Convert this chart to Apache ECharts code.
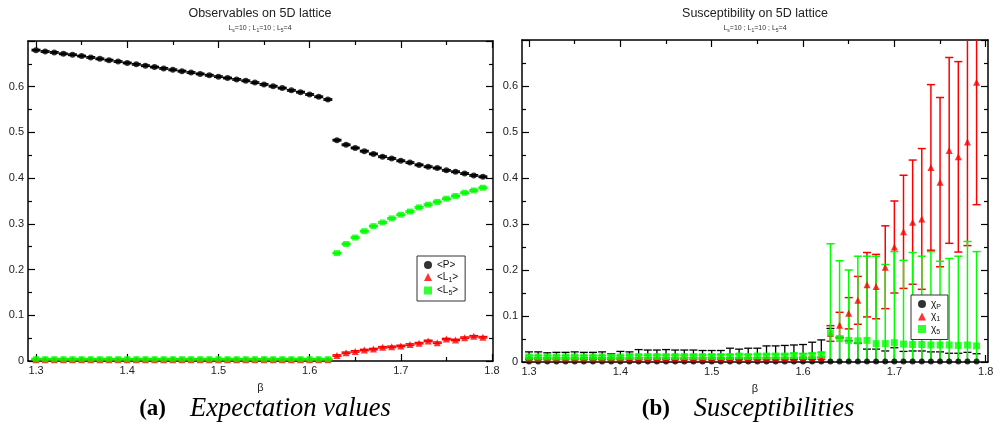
<!DOCTYPE html>
<html>
<head>
<meta charset="utf-8">
<script src="https://cdn.jsdelivr.net/npm/echarts@6/dist/echarts.min.js"></script>
<style>
html,body{margin:0;padding:0;background:#fff;}
#chart{width:1000px;height:432px;}
</style>
</head>
<body>
<div id="chart"></div>
<script>
// ---------------- data ----------------
const beta = [1.30,1.31,1.32,1.33,1.34,1.35,1.36,1.37,1.38,1.39,
              1.40,1.41,1.42,1.43,1.44,1.45,1.46,1.47,1.48,1.49,
              1.50,1.51,1.52,1.53,1.54,1.55,1.56,1.57,1.58,1.59,
              1.60,1.61,1.62,1.63,1.64,1.65,1.66,1.67,1.68,1.69,
              1.70,1.71,1.72,1.73,1.74,1.75,1.76,1.77,1.78,1.79];
const xTickLabels = [1.3,1.4,1.5,1.6,1.7,1.8];
const xMinorTicks = [1.35,1.45,1.55,1.65,1.75];

// (a) expectation values
const obsP = [0.680,0.677,0.675,0.672,0.670,0.667,0.664,0.661,0.658,0.655,
              0.652,0.649,0.646,0.643,0.640,0.637,0.634,0.631,0.628,0.625,
              0.622,0.619,0.616,0.613,0.609,0.605,0.601,0.597,0.592,0.588,
              0.583,0.578,0.572,0.483,0.473,0.466,0.459,0.453,0.447,0.443,
              0.438,0.434,0.429,0.425,0.422,0.417,0.414,0.410,0.406,0.403];
const obsL1 = [0.003,0.003,0.003,0.003,0.003,0.003,0.003,0.003,0.003,0.003,
               0.003,0.003,0.003,0.003,0.003,0.003,0.003,0.003,0.003,0.003,
               0.003,0.003,0.003,0.003,0.003,0.003,0.003,0.003,0.003,0.003,
               0.003,0.003,0.003,0.012,0.018,0.021,0.024,0.026,0.030,0.031,
               0.033,0.036,0.039,0.044,0.040,0.048,0.046,0.051,0.054,0.052];
const obsL5 = [0.004,0.004,0.004,0.004,0.004,0.004,0.004,0.004,0.004,0.004,
               0.004,0.004,0.004,0.004,0.004,0.004,0.004,0.004,0.004,0.004,
               0.004,0.004,0.004,0.004,0.004,0.004,0.004,0.004,0.004,0.004,
               0.004,0.004,0.004,0.236,0.256,0.270,0.284,0.295,0.303,0.312,
               0.320,0.327,0.336,0.342,0.348,0.355,0.361,0.368,0.373,0.379];
const obsErr = 0.0015;

// (b) susceptibilities
const chiP = [0.001,0.001,0.001,0.001,0.001,0.001,0.001,0.001,0.001,0.001,
              0.001,0.001,0.001,0.001,0.001,0.001,0.001,0.001,0.001,0.001,
              0.001,0.001,0.001,0.001,0.001,0.001,0.001,0.001,0.001,0.001,
              0.001,0.001,0.001,0.001,0.001,0.001,0.001,0.001,0.001,0.001,
              0.001,0.001,0.001,0.001,0.001,0.001,0.001,0.001,0.001,0.001];
const chiPErr = [0.021,0.021,0.019,0.020,0.020,0.021,0.020,0.020,0.021,0.017,
                 0.022,0.021,0.026,0.025,0.025,0.026,0.025,0.025,0.025,0.024,
                 0.024,0.024,0.029,0.027,0.029,0.029,0.034,0.034,0.035,0.036,
                 0.037,0.042,0.047,0.072,0.053,0.045,0.040,0.027,0.027,0.023,
                 0.030,0.022,0.023,0.023,0.021,0.021,0.018,0.018,0.020,0.017];
const chi1 = [0.007,0.007,0.007,0.007,0.007,0.007,0.007,0.007,0.007,0.007,
              0.007,0.007,0.007,0.007,0.007,0.007,0.007,0.007,0.007,0.007,
              0.007,0.007,0.007,0.007,0.007,0.007,0.007,0.007,0.007,0.007,
              0.008,0.008,0.008,0.062,0.080,0.106,0.134,0.168,0.164,0.206,
              0.250,0.283,0.304,0.311,0.423,0.391,0.460,0.446,0.478,0.608];
const chi1Err = [0.002,0.002,0.002,0.002,0.002,0.002,0.002,0.002,0.002,0.002,
                 0.002,0.002,0.002,0.002,0.002,0.002,0.002,0.002,0.002,0.002,
                 0.002,0.002,0.002,0.002,0.002,0.002,0.002,0.002,0.002,0.002,
                 0.002,0.002,0.002,0.017,0.028,0.034,0.052,0.070,0.070,0.090,
                 0.100,0.123,0.135,0.153,0.180,0.184,0.202,0.207,0.225,0.266];
const chi5 = [0.011,0.011,0.011,0.011,0.011,0.011,0.011,0.011,0.011,0.011,
              0.011,0.012,0.012,0.012,0.012,0.012,0.012,0.012,0.012,0.012,
              0.012,0.012,0.012,0.013,0.012,0.013,0.013,0.013,0.013,0.014,
              0.013,0.014,0.016,0.063,0.051,0.047,0.046,0.047,0.040,0.040,
              0.042,0.039,0.038,0.038,0.037,0.037,0.037,0.036,0.037,0.035];
const chi5Err = [0.003,0.003,0.003,0.003,0.003,0.003,0.003,0.003,0.003,0.003,
                 0.003,0.003,0.003,0.003,0.003,0.003,0.003,0.003,0.003,0.003,
                 0.004,0.004,0.004,0.004,0.004,0.004,0.004,0.004,0.004,0.005,
                 0.005,0.005,0.005,0.194,0.169,0.153,0.184,0.183,0.190,0.172,
                 0.198,0.182,0.200,0.192,0.203,0.182,0.188,0.194,0.225,0.205];

// ---------------- helpers ----------------
const SANS = 'Liberation Sans, Arial, sans-serif';
const SERIF = 'Liberation Serif, Times New Roman, serif';
const BLACK = '#000000', RED = '#ff0000', GREEN = '#00ff00';

function pts(vals) { return beta.map((b, i) => [b, vals[i]]); }
function errPts(vals, errs) {
  return beta.map((b, i) => [b, vals[i], Array.isArray(errs) ? errs[i] : errs]);
}
function errBar(capW, color, lw) {
  return function (params, api) {
    const x = api.value(0), y = api.value(1), e = api.value(2);
    const p1 = api.coord([x, y + e]);
    const p2 = api.coord([x, y - e]);
    const st = { stroke: color, lineWidth: lw };
    const h = capW / 2;
    return {
      type: 'group',
      children: [
        { type: 'line', shape: { x1: p1[0], y1: p1[1], x2: p2[0], y2: p2[1] }, style: st },
        { type: 'line', shape: { x1: p1[0] - h, y1: p1[1], x2: p1[0] + h, y2: p1[1] }, style: st },
        { type: 'line', shape: { x1: p2[0] - h, y1: p2[1], x2: p2[0] + h, y2: p2[1] }, style: st }
      ]
    };
  };
}

function xMajor(gi, min, max, pos, withLabels) {
  return {
    type: 'value', gridIndex: gi, position: pos, min: min, max: max,
    axisLine: { show: true, onZero: false, lineStyle: { color: BLACK, width: 1.5 } },
    axisTick: { show: true, inside: true, length: 7, customValues: xTickLabels,
                lineStyle: { color: BLACK, width: 1.2 } },
    axisLabel: { show: withLabels, customValues: xTickLabels, margin: 4, fontSize: 11,
                 color: '#222', fontFamily: SANS, formatter: v => Number(v).toFixed(1) },
    splitLine: { show: false },
    name: withLabels ? 'β' : '', nameLocation: 'middle', nameGap: 21,
    nameTextStyle: { fontSize: 11, color: '#222', fontFamily: SANS }
  };
}
function xMinor(gi, min, max, pos) {
  return {
    type: 'value', gridIndex: gi, position: pos, min: min, max: max,
    axisLine: { show: false, onZero: false },
    axisTick: { show: true, inside: true, length: 4, customValues: xMinorTicks,
                lineStyle: { color: BLACK, width: 1.2 } },
    axisLabel: { show: false },
    splitLine: { show: false }
  };
}
function yAx(gi, pos, withLabels) {
  return {
    type: 'value', gridIndex: gi, position: pos, min: 0, max: 0.7, interval: 0.1,
    axisLine: { show: true, onZero: false, lineStyle: { color: BLACK, width: 1.5 } },
    axisTick: { show: true, inside: true, length: 7, lineStyle: { color: BLACK, width: 1.2 } },
    minorTick: { show: true, splitNumber: 2, length: 4, lineStyle: { color: BLACK, width: 1.2 } },
    axisLabel: { show: withLabels, showMaxLabel: false, margin: 4, fontSize: 11,
                 color: '#222', fontFamily: SANS },
    splitLine: { show: false }
  };
}

const legendRich = {
  n: { fontSize: 10, color: '#111', fontFamily: SANS, lineHeight: 13 },
  s: { fontSize: 7, color: '#111', fontFamily: SANS, verticalAlign: 'bottom' }
};
const legendLabels = {
  'P': '{n|<P>}',
  'L1': '{n|<L}{s|1}{n|>}',
  'L5': '{n|<L}{s|5}{n|>}',
  'chiP': '{n|χ}{s|P}',
  'chi1': '{n|χ}{s|1}',
  'chi5': '{n|χ}{s|5}'
};

const subRich = {
  n: { fontSize: 7, fill: '#333', fontFamily: SANS, lineHeight: 10 },
  s: { fontSize: 5, fill: '#333', fontFamily: SANS, verticalAlign: 'bottom' }
};
const subText = '{n|L}{s|s}{n|=10 ; L}{s|1}{n|=10 ; L}{s|5}{n|=4}';

const capRich = {
  b: { fontSize: 23, fontWeight: 'bold', fontFamily: SERIF, fill: '#000' },
  g: { fontSize: 23, fontFamily: SERIF, fill: '#000', width: 24 },
  i: { fontSize: 26.5, fontStyle: 'italic', fontFamily: SERIF, fill: '#000' }
};

const LX = [1.2912, 1.8011];
const RX = [1.2923, 1.8025];

const option = {
  animation: false,
  backgroundColor: '#fff',
  grid: [
    { left: 28, top: 41, width: 465, height: 320 },
    { left: 522, top: 40, width: 466, height: 322 }
  ],
  xAxis: [
    xMajor(0, LX[0], LX[1], 'bottom', true),
    xMajor(0, LX[0], LX[1], 'top', false),
    xMinor(0, LX[0], LX[1], 'bottom'),
    xMinor(0, LX[0], LX[1], 'top'),
    xMajor(1, RX[0], RX[1], 'bottom', true),
    xMajor(1, RX[0], RX[1], 'top', false),
    xMinor(1, RX[0], RX[1], 'bottom'),
    xMinor(1, RX[0], RX[1], 'top')
  ],
  yAxis: [
    yAx(0, 'left', true),
    yAx(0, 'right', false),
    yAx(1, 'left', true),
    yAx(1, 'right', false)
  ],
  legend: [
    {
      data: ['P', 'L1', 'L5'], orient: 'vertical', left: 417, top: 256,
      itemWidth: 8, itemHeight: 8, itemGap: 2, padding: [4, 7, 4, 7],
      borderColor: '#333', borderWidth: 1, backgroundColor: '#fff',
      formatter: n => legendLabels[n], textStyle: { rich: legendRich }, selectedMode: false
    },
    {
      data: ['chiP', 'chi1', 'chi5'], orient: 'vertical', left: 911, top: 295,
      itemWidth: 8, itemHeight: 8, itemGap: 1, padding: [4, 7, 4, 7],
      borderColor: '#333', borderWidth: 1, backgroundColor: '#fff',
      formatter: n => legendLabels[n], textStyle: { rich: legendRich }, selectedMode: false
    }
  ],
  series: [
    // (a) error bars
    { type: 'custom', xAxisIndex: 0, yAxisIndex: 0, clip: true, silent: true, z: 2,
      renderItem: errBar(9, BLACK, 1.5), data: errPts(obsP, obsErr), encode: { x: 0, y: 1 } },
    { type: 'custom', xAxisIndex: 0, yAxisIndex: 0, clip: true, silent: true, z: 2,
      renderItem: errBar(9, RED, 1.5), data: errPts(obsL1, obsErr), encode: { x: 0, y: 1 } },
    { type: 'custom', xAxisIndex: 0, yAxisIndex: 0, clip: true, silent: true, z: 2,
      renderItem: errBar(9, GREEN, 1.5), data: errPts(obsL5, obsErr), encode: { x: 0, y: 1 } },
    // (a) markers
    { name: 'P', type: 'scatter', xAxisIndex: 0, yAxisIndex: 0, symbol: 'circle', symbolSize: 6,
      itemStyle: { color: BLACK }, data: pts(obsP), z: 3, silent: true },
    { name: 'L1', type: 'scatter', xAxisIndex: 0, yAxisIndex: 0, symbol: 'triangle', symbolSize: 7,
      itemStyle: { color: RED }, data: pts(obsL1), z: 3, silent: true },
    { name: 'L5', type: 'scatter', xAxisIndex: 0, yAxisIndex: 0, symbol: 'rect', symbolSize: 6,
      itemStyle: { color: GREEN }, data: pts(obsL5), z: 3, silent: true },

    // (b) error bars
    { type: 'custom', xAxisIndex: 4, yAxisIndex: 2, clip: true, silent: true, z: 2,
      renderItem: errBar(8, BLACK, 1.3), data: errPts(chiP, chiPErr), encode: { x: 0, y: 1 } },
    { type: 'custom', xAxisIndex: 4, yAxisIndex: 2, clip: true, silent: true, z: 2,
      renderItem: errBar(8, RED, 1.5), data: errPts(chi1, chi1Err), encode: { x: 0, y: 1 } },
    { type: 'custom', xAxisIndex: 4, yAxisIndex: 2, clip: true, silent: true, z: 2,
      renderItem: errBar(8, GREEN, 1.5), data: errPts(chi5, chi5Err), encode: { x: 0, y: 1 } },
    // (b) markers
    { name: 'chiP', type: 'scatter', xAxisIndex: 4, yAxisIndex: 2, symbol: 'circle', symbolSize: 6,
      itemStyle: { color: BLACK }, data: pts(chiP), z: 3, silent: true },
    { name: 'chi1', type: 'scatter', xAxisIndex: 4, yAxisIndex: 2, symbol: 'triangle', symbolSize: 7,
      itemStyle: { color: RED }, data: pts(chi1), z: 3, silent: true },
    { name: 'chi5', type: 'scatter', xAxisIndex: 4, yAxisIndex: 2, symbol: 'rect', symbolSize: 7,
      itemStyle: { color: GREEN }, data: pts(chi5), z: 3, silent: true }
  ],
  graphic: [
    { type: 'text', x: 260, y: 14, silent: true,
      style: { text: 'Observables on 5D lattice', fontSize: 12.5, fontFamily: SANS, fill: '#222',
               align: 'center', verticalAlign: 'middle' } },
    { type: 'text', x: 260, y: 28, silent: true,
      style: { text: subText, rich: subRich, align: 'center', verticalAlign: 'middle' } },
    { type: 'text', x: 755, y: 14, silent: true,
      style: { text: 'Susceptibility on 5D lattice', fontSize: 12.5, fontFamily: SANS, fill: '#222',
               align: 'center', verticalAlign: 'middle' } },
    { type: 'text', x: 755, y: 28, silent: true,
      style: { text: subText, rich: subRich, align: 'center', verticalAlign: 'middle' } },
    { type: 'text', x: 265, y: 409, silent: true,
      style: { text: '{b|(a)}{g| }{i|Expectation values}', rich: capRich,
               align: 'center', verticalAlign: 'middle' } },
    { type: 'text', x: 748, y: 409, silent: true,
      style: { text: '{b|(b)}{g| }{i|Susceptibilities}', rich: capRich,
               align: 'center', verticalAlign: 'middle' } }
  ]
};

const chart = echarts.init(document.getElementById('chart'), null, { renderer: 'canvas' });
chart.setOption(option);
</script>
</body>
</html>
